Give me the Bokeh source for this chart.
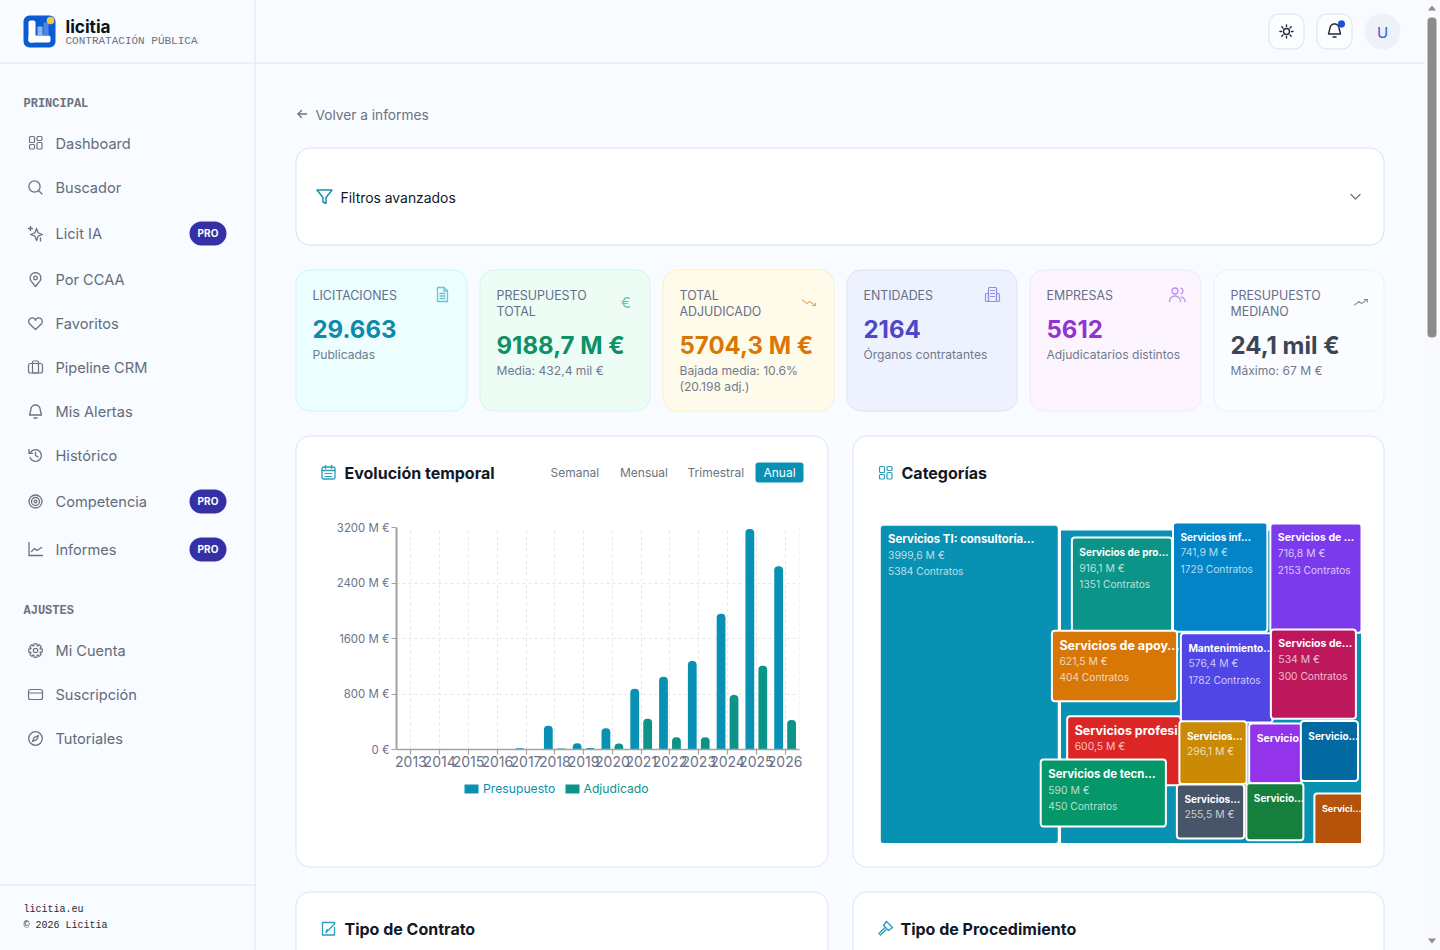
import math
from bokeh.core.properties import value
from bokeh.embed import file_html
from bokeh.models import (ColumnDataSource, FactorRange, FixedTicker, Pane, Range1d, Span)
from bokeh.plotting import figure
from bokeh.resources import INLINE
from bokeh.transform import dodge

# ---------- data ----------
years = ["2013", "2014", "2015", "2016", "2017", "2018", "2019", "2020", "2021", "2022", "2023", "2024", "2025", "2026"]
presupuesto = [0, 0, 2, 6, 19, 342, 91, 308, 876, 1050, 1276, 1955, 3179, 2640]
adjudicado = [0, 0, 0, 4, 3, 15, 22, 87, 443, 178, 178, 785, 1209, 424]
y_ticks = [0, 800, 1600, 2400, 3200]

tm_root_label = "Servicios TI: consultoría…"
tm_root_value = 3999.6
tm_root_contracts = 5384
tm_labels = ["Servicios de pro…", "Servicios inf…", "Servicios de …", "Servicios de apoy…", "Servicios profesi…",
             "Servicios de tecn…", "Mantenimiento…", "Servicios de…", "Servicios…", "Servicios…",
             "Servicio…", "Servicio…", "Servicio…", "Servici…"]
tm_values = [916.1, 741.9, 716.8, 621.5, 600.5, 590.0, 576.4, 534.0, 296.1, 255.5, 220.0, 240.0, 228.0, 210.0]
tm_contracts = [1351, 1729, 2153, 404, None, 450, 1782, 300, None, None, None, None, None, None]

kpi_titles = [["LICITACIONES"], ["PRESUPUESTO", "TOTAL"], ["TOTAL", "ADJUDICADO"], ["ENTIDADES"], ["EMPRESAS"], ["PRESUPUESTO", "MEDIANO"]]
kpi_values = ["29.663", "9188,7 M €", "5704,3 M €", "2164", "5612", "24,1 mil €"]
kpi_notes = [["Publicadas"], ["Media: 432,4 mil €"], ["Bajada media: 10.6%", "(20.198 adj.)"],
             ["Órganos contratantes"], ["Adjudicatarios distintos"], ["Máximo: 67 M €"]]

# ---------- style ----------
SANS = "Inter"
MONO = "Liberation Mono"
PAGE = "#f8fbff"
LINE = "#dfe5ee"
GREY = "#6b7280"
INK = "#111827"
TEAL = "#0891b2"
GREEN = "#0d9488"
ICON = "#6b7280"
# the reference was captured mid-animation: per-cell translation and scale of the treemap transition
tm_colors = ["#0d9488", "#0284c7", "#7c3aed", "#d97706", "#dc2626", "#059669", "#4f46e5", "#be185d",
             "#ca8a04", "#475569", "#9333ea", "#0369a1", "#15803d", "#b45309"]
anim_dx = [4.2, -3, 0, -7.6, 1.9, -18.8, -3.8, -5.6, -5.3, -7.8, -2.8, -3.5, -5.6, 5.4]
anim_dy = [6.2, -4.3, -3.3, -6.8, 8.4, -16.9, -4.2, -8, -5.5, -5, -3.2, -5.7, -3.3, 7]
anim_sx = [.86, 1, 1, 1, .908, 1, 1, 1, 1, 1, 1, 1, 1, 1]
anim_sy = [.896, .977, .977, 1, 1.01, 1, 1, 1, 1, 1, 1, 1, 1, 1]
tm_title_px = [10, 10, 10.5, 12.5, 12.5, 11.4, 10.2, 10.5, 10, 10, 10.5, 10, 10, 9]


def place(fig, left, top):
    fig.styles = {"position": "absolute", "left": f"{left - 1}px", "top": f"{top - 1}px"}
    return fig


# ---------- page chrome ----------
bg = figure(width=1441, height=951, x_range=Range1d(0, 1441), y_range=Range1d(951, 0),
            x_axis_type=None, y_axis_type=None, toolbar_location=None, output_backend="svg",
            min_border=0, outline_line_color=None, background_fill_color=PAGE, border_fill_color=PAGE)


def box(l, t, r, b, fill=None, line=None, radius=0, w=1.0):
    bg.quad(left=[l], right=[r], top=[t], bottom=[b], fill_color=fill, line_color=line, line_width=w,
            border_radius=int(round(radius)), fill_alpha=1 if fill else 0)


def txt(x, y, s, size=14, color=GREY, font=SANS, bold=False, align="left"):
    bg.text(x=[x], y=[y], text=[s], text_font=value(font), text_font_size=f"{size}px", text_color=color,
            text_baseline="middle", text_align=align, text_font_style="bold" if bold else "normal")


def ln(pts, color=ICON, w=1.3):
    bg.line([p[0] for p in pts], [p[1] for p in pts], line_color=color, line_width=w,
            line_cap="round", line_join="round")


def circ(x, y, r, color=ICON, w=1.3, fill=None):
    bg.circle([x], [y], radius=r, line_color=color, line_width=w, fill_color=fill, fill_alpha=1 if fill else 0)


def arc(cx, cy, r, a0, a1, n=14):
    return [(cx + r * math.cos(math.radians(a0 + (a1 - a0) * i / n)),
             cy + r * math.sin(math.radians(a0 + (a1 - a0) * i / n))) for i in range(n + 1)]


def ic_grid(x, y, c=ICON):
    for l, t, r_, b in [(-6, -7, -1, -1), (1.5, -7, 6.5, -3), (-6, 1, -1, 5.5), (1.5, -1, 6.5, 5.5)]:
        box(x + l, y + t, x + r_, y + b, None, c, 1.2, 1.2)


def ic_search(x, y, c=ICON):
    circ(x - 1, y - 1, 5.6, c)
    ln([(x + 3, y + 3), (x + 6.5, y + 6.5)], c)


def ic_spark(x, y, c=ICON):
    ln([(x + 1, y - 5), (x + 2.6, y - .6), (x + 7, y + 1), (x + 2.6, y + 2.6), (x + 1, y + 7), (x - .6, y + 2.6), (x - 5, y + 1), (x - .6, y - .6), (x + 1, y - 5)], c)
    ln([(x - 5, y - 7), (x - 5, y - 3)], c)
    ln([(x - 7, y - 5), (x - 3, y - 5)], c)
    ln([(x + 5, y + 4.5), (x + 5, y + 7.5)], c)


def ic_pin(x, y, c=ICON):
    ln(arc(x, y - 1.5, 5.4, 150, 390) + [(x, y + 7), (x - 4.7, y + 1.2)], c)
    circ(x, y - 1.5, 1.8, c)


def ic_heart(x, y, c=ICON):
    ln(arc(x - 3.2, y - 2, 3.6, 135, 340) + arc(x + 3.2, y - 2, 3.6, 200, 405) + [(x, y + 6), (x - 5.8, y + .6)], c)


def ic_case(x, y, c=ICON):
    box(x - 7, y - 4, x + 7, y + 5.5, None, c, 1.5, 1.2)
    box(x - 3, y - 6.5, x + 3, y + 5.5, None, c, 1, 1.2)


def ic_bell(x, y, c=ICON, w=1.3):
    ln([(x - 6, y + 3.5)] + arc(x, y - 2, 4.6, 180, 360) + [(x + 6, y + 3.5), (x - 6, y + 3.5)], c, w)
    ln([(x - 1.5, y + 6.5), (x + 1.5, y + 6.5)], c, w)


def ic_hist(x, y, c=ICON):
    ln(arc(x, y, 5.8, 200, 520, 22), c)
    ln([(x - 6.5, y - 6), (x - 6.5, y - 2.2), (x - 3, y - 2.2)], c)
    ln([(x, y - 3), (x, y), (x + 2.5, y + 1.5)], c)


def ic_target(x, y, c=ICON):
    circ(x, y, 6.5, c)
    circ(x, y, 4, c)
    circ(x, y, 1.4, c)


def ic_chart(x, y, c=ICON):
    ln([(x - 6.5, y - 7), (x - 6.5, y + 6), (x + 7, y + 6)], c)
    ln([(x - 4, y + 2), (x - 1, y - 1), (x + 1.5, y + 1), (x + 6, y - 2)], c)


def ic_gear(x, y, c=ICON):
    pts = []
    for i in range(8):
        a = 45 * i
        pts += arc(x, y, 6.8, a - 13, a + 13, 3) + arc(x, y, 5, a + 18, a + 27, 2)
    ln(pts + [pts[0]], c, 1.2)
    circ(x, y, 2.2, c, 1.2)


def ic_card(x, y, c=ICON):
    box(x - 7, y - 5, x + 7, y + 5, None, c, 1.5, 1.2)
    ln([(x - 7, y - 1.5), (x + 7, y - 1.5)], c, 1.2)


def ic_compass(x, y, c=ICON):
    circ(x, y, 6.8, c)
    ln([(x + 3, y - 3), (x + 1.2, y + 1.2), (x - 3, y + 3), (x - 1.2, y - 1.2), (x + 3, y - 3)], c)


def ic_doc(x, y, c):
    ln([(x - 5, y - 7), (x + 1.5, y - 7), (x + 5, y - 3.5), (x + 5, y + 7), (x - 5, y + 7), (x - 5, y - 7)], c)
    ln([(x + 1.5, y - 7), (x + 1.5, y - 3.5), (x + 5, y - 3.5)], c)
    for d in (-1, 1.5, 4):
        ln([(x - 2.5, y + d), (x + 2.5, y + d)], c)


def ic_trend(x, y, c, up):
    s = -1 if up else 1
    ln([(x - 7, y - 2.5 * s), (x - 2.5, y + 1.2 * s), (x, y - 1 * s), (x + 6, y + 3 * s)], c, 1.1)
    ln([(x + 2.5, y + 3 * s), (x + 6, y + 3 * s), (x + 6, y + .5 * s)], c, 1.1)


def ic_build(x, y, c):
    box(x - 4, y - 7, x + 4, y + 7, None, c, 1, 1.2)
    box(x - 7, y - 1, x - 4, y + 7, None, c, 1, 1.2)
    box(x + 4, y - 1, x + 7, y + 7, None, c, 1, 1.2)
    for d in (-4, -1, 2):
        ln([(x - 2, y + d), (x + 2, y + d)], c, 1.1)


def ic_users(x, y, c):
    circ(x - 1.5, y - 3.5, 3, c)
    ln(arc(x - 1.5, y + 7, 5.5, 180, 360), c)
    ln(arc(x + 3.5, y - 3.5, 3, -70, 70, 6), c)
    ln(arc(x + 4, y + 7, 4.5, 280, 360, 6), c)


def ic_cal(x, y, c):
    box(x - 6.5, y - 5.5, x + 6.5, y + 6.5, None, c, 1.5, 1.3)
    ln([(x - 6.5, y - 2), (x + 6.5, y - 2)], c)
    ln([(x - 3, y - 7), (x - 3, y - 4)], c)
    ln([(x + 3, y - 7), (x + 3, y - 4)], c)
    for dy in (1, 4):
        ln([(x - 3.5, y + dy), (x + 3.5, y + dy)], c, 1)


def ic_funnel(x, y, c):
    ln([(x - 7.5, y - 6.5), (x + 7.5, y - 6.5), (x + 1.5, y + 1), (x + 1.5, y + 7), (x - 1.5, y + 5.5), (x - 1.5, y + 1), (x - 7.5, y - 6.5)], c, 1.5)


def ic_pen(x, y, c):
    ln([(x + 6, y - 6), (x - 6, y - 6), (x - 6, y + 6.5), (x + 6, y + 6.5), (x + 6, y - 1)], c)
    ln([(x + 6.5, y - 5), (x - 1, y + 2.5), (x - 2.5, y + 4), (x - 1.5, y + 1)], c)


def ic_gavel(x, y, c):
    ln([(x + 1, y - 7), (x + 7, y - 1), (x + 3, y + 2), (x - 2, y - 3), (x + 1, y - 7)], c, 1.4)
    ln([(x - 1, y - .5), (x - 6.5, y + 5), (x - 5, y + 6.5), (x + .5, y + 1.2)], c, 1.4)


# shell: sidebar, top bar, scrollbar
bg.quad(left=[0], right=[255], top=[0], bottom=[951], fill_color="#f8fbff", line_color=None)
box(1425, 0, 1441, 951, "#f9fafb")
ln([(255.5, 0), (255.5, 951)], LINE, 1)
ln([(0, 63.5), (1425, 63.5)], LINE, 1)
ln([(0, 885.5), (255, 885.5)], LINE, 1)
box(1428, 18, 1437, 338, "#8b8b8b", None, 4.5)
bg.patch([1428.5, 1432.5, 1436.5], [11, 6, 11], fill_color="#8b8b8b", line_color=None)
bg.patch([1428.5, 1432.5, 1436.5], [939, 944, 939], fill_color="#8b8b8b", line_color=None)

# logo
box(24, 16, 56, 48, "#0b5bd3", None, 6)
box(29, 21, 36, 43, "#ffffff", None, 1.5)
box(29, 36, 51, 43, "#ffffff", None, 1.5)
box(38, 27, 43, 36, "#8fb4f0")
box(44, 23, 49, 36, "#4a86e8")
circ(51, 21, 3.6, "#f5c945", 0.5, "#f5c945")
txt(66, 27, "licitia", 17.2, "#0b1220", SANS, True)
txt(66, 41, "CONTRATACIÓN PÚBLICA", 11, GREY, MONO)

# sidebar
txt(24, 104.5, "PRINCIPAL", 12, GREY, MONO, True)
txt(24, 611.5, "AJUSTES", 12, GREY, MONO, True)
nav = [("Dashboard", 144, ic_grid, False), ("Buscador", 188, ic_search, False), ("Licit IA", 234, ic_spark, True),
       ("Por CCAA", 280, ic_pin, False), ("Favoritos", 324, ic_heart, False), ("Pipeline CRM", 368, ic_case, False),
       ("Mis Alertas", 412, ic_bell, False), ("Histórico", 456, ic_hist, False), ("Competencia", 502, ic_target, True),
       ("Informes", 550, ic_chart, True), ("Mi Cuenta", 651, ic_gear, False), ("Suscripción", 695, ic_card, False),
       ("Tutoriales", 739, ic_compass, False)]
for label, yy, icon, pro in nav:
    icon(36, yy)
    txt(56, yy, label, 14.6, "#636b7a")
    if pro:
        box(190, yy - 12, 227, yy + 12, "#3430a6", None, 12)
        txt(208.5, yy - 1, "PRO", 10, "#ffffff", SANS, True, "center")
txt(24, 909.5, "licitia.eu", 10, "#1f2937", MONO)
txt(24, 926, "© 2026 Licitia", 10, "#1f2937", MONO)

# top right
box(1269.5, 14.5, 1304.5, 49.5, "#fbfdff", "#dde3ec", 10)
box(1317.5, 14.5, 1352.5, 49.5, "#fbfdff", "#dde3ec", 10)
circ(1287, 32, 3, "#1f2937", 1.4)
for i in range(8):
    a = math.radians(45 * i)
    ln([(1287 + 5 * math.cos(a), 32 + 5 * math.sin(a)), (1287 + 6.6 * math.cos(a), 32 + 6.6 * math.sin(a))], "#1f2937", 1.4)
ic_bell(1335, 31, "#1f2937", 1.4)
circ(1342, 24.5, 3.4, "#1d4ed8", 0.5, "#1d4ed8")
circ(1383, 32, 18, "#eef1f8", 0, "#eef1f8")
txt(1383, 32.5, "U", 15, "#2f5fd0", SANS, False, "center")

# back link and filters
ln([(307, 114.5), (298.5, 114.5)], GREY)
ln([(302, 111), (298.5, 114.5), (302, 118)], GREY)
txt(316, 115.5, "Volver a informes", 13.7, GREY)
box(296.5, 148.5, 1384.5, 245.5, "#ffffff", "#d8e1ee", 14)
ic_funnel(325, 197, "#1c8fb0")
txt(341, 198.5, "Filtros avanzados", 13.9, INK)
ln([(1351.5, 195), (1356, 199.5), (1360.5, 195)], GREY)

# KPI cards
kpi_boxes = [(296.5, 467.5), (480.5, 650.5), (663.5, 834.5), (847.5, 1017.5), (1030.5, 1201.5), (1214.5, 1384.5)]
kpi_fills = ["#ecfeff", "#edfdf6", "#fffbeb", "#eef2ff", "#fcf5ff", "#fafcff"]
kpi_lines = ["#cdf5fa", "#d3f7e6", "#fdf0c4", "#dde3f7", "#f2e7fd", "#eef1f6"]
kpi_colors = ["#0e8aa8", "#0d9165", "#d97706", "#4f46c8", "#9333d0", "#3a4658"]
for i, (l, r_) in enumerate(kpi_boxes):
    box(l, 270.5, r_, 411.5, kpi_fills[i], kpi_lines[i], 14)
    for j, s in enumerate(kpi_titles[i]):
        txt(l + 16.5, 295.5 + 16 * j, s, 12.4, "#64708a")
    two = len(kpi_titles[i]) == 2
    txt(l + 16.5, 345.5 if two else 329, kpi_values[i], 24, kpi_colors[i], SANS, True)
    for j, s in enumerate(kpi_notes[i]):
        txt(l + 16.5, (370.5 if two else 354.5) + 16 * j, s, 12.1, "#707a8c")
ic_doc(443, 295, "#6cc3d6")
txt(626.5, 303, "€", 15, "#6cc9a6", SANS, False, "center")
ic_trend(810, 303, "#f0a860", False)
ic_build(993, 295, "#8f8fe0")
ic_users(1177, 295, "#c08ef0")
ic_trend(1362, 303, "#8a94a6", True)

# main cards
for l, r_, t, b in [(296.5, 828.5, 436.5, 867.5), (853.5, 1384.5, 436.5, 867.5),
                    (296.5, 828.5, 892.5, 990), (853.5, 1384.5, 892.5, 990)]:
    box(l, t, r_, b, "#ffffff", "#dde4ef", 14)
ic_cal(329, 473, "#2a9fbd")
txt(345, 473, "Evolución temporal", 16, INK, SANS, True)
ic_grid(886, 474, "#2a9fbd")
txt(902, 473, "Categorías", 16, INK, SANS, True)
ic_pen(329, 929, "#2a9fbd")
txt(345, 929, "Tipo de Contrato", 16, INK, SANS, True)
ic_gavel(886, 929, "#2a9fbd")
txt(901, 929, "Tipo de Procedimiento", 16, INK, SANS, True)
for s, x_ in [("Semanal", 551), ("Mensual", 620.5), ("Trimestral", 688)]:
    txt(x_, 472.5, s, 12, GREY)
box(756, 463, 804, 483, TEAL, None, 3)
txt(780, 472.5, "Anual", 12, "#ffffff", SANS, False, "center")

# bar chart legend
box(465, 785, 479, 794, TEAL)
txt(483.5, 788.5, "Presupuesto", 12.2, TEAL)
box(566, 785, 580, 794, GREEN)
txt(584, 788.5, "Adjudicado", 12.2, GREEN)

# ---------- bar chart ----------
src = ColumnDataSource(dict(year=years, pres=presupuesto, adj=adjudicado))
x_rng = FactorRange(*years, range_padding=0)
bar = figure(width=477, height=260, x_range=x_rng, y_range=Range1d(0, 3200), toolbar_location=None,
             output_backend="svg", min_border_left=66, min_border_right=8, min_border_top=8, min_border_bottom=30,
             outline_line_color=None, background_fill_color="white", border_fill_color="white")
bar.vbar(x=dodge("year", -0.225, range=x_rng), top="pres", width=0.305, source=src, fill_color=TEAL,
         line_color=None, border_radius=(4, 4, 0, 0))
bar.vbar(x=dodge("year", 0.225, range=x_rng), top="adj", width=0.305, source=src, fill_color=GREEN,
         line_color=None, border_radius=(4, 4, 0, 0))
bar.yaxis.ticker = FixedTicker(ticks=y_ticks)
bar.yaxis.major_label_overrides = {v: (f"{v} M €" if v else "0 €") for v in y_ticks}
bar.ygrid.ticker = FixedTicker(ticks=y_ticks)
for g in (bar.xgrid, bar.ygrid):
    g.grid_line_color = "#e4e7ec"
    g.grid_line_dash = [3, 3]
    g.grid_line_width = 1
bar.add_layout(Span(location=14, dimension="height", line_color="#e4e7ec", line_dash=[3, 3], line_width=1))
for ax, size, lw, standoff in ((bar.xaxis, "14px", 1.6, 1), (bar.yaxis, "11.4px", 2, 2)):
    ax.major_label_text_font = SANS
    ax.major_label_text_font_size = size
    ax.major_label_text_color = "#6b7488"
    ax.axis_line_color = "#a3a3a3"
    ax.axis_line_width = lw
    ax.major_tick_line_color = "#a3a3a3"
    ax.major_tick_line_width = 1.2
    ax.major_tick_in = 0
    ax.major_tick_out = 5
    ax.minor_tick_line_color = None
    ax.major_label_standoff = standoff
place(bar, 331, 520)

# ---------- treemap ----------
TM_W, TM_H, TM_TOP = 481, 318, 6
tm = figure(width=TM_W, height=TM_H + TM_TOP, x_range=Range1d(0, TM_W), y_range=Range1d(TM_H, -TM_TOP),
            x_axis_type=None, y_axis_type=None, toolbar_location=None, output_backend="svg", min_border=0,
            outline_line_color=None, background_fill_color="white", border_fill_color="white")
total = tm_root_value + sum(tm_values)
root_w = tm_root_value / total * TM_W
tree = ("v", [("h", [0, 1, 2]),
              ("h", [("v", [3, 4, 5]),
                     ("v", [("h", [6, 7]),
                            ("h", [("v", [8, 9]), ("v", [("h", [10, 11]), ("h", [12, 13])])])])])])


def weight(n):
    return tm_values[n] if isinstance(n, int) else sum(weight(c) for c in n[1])


def layout(n, x, y, w, h, out):
    if isinstance(n, int):
        out[n] = (x, y, w, h)
        return
    tot = weight(n)
    for c in n[1]:
        f = weight(c) / tot
        if n[0] == "h":
            layout(c, x, y, w * f, h, out)
            x += w * f
        else:
            layout(c, x, y, w, h * f, out)
            y += h * f


cells = {}
layout(tree, root_w, 0, TM_W - root_w, TM_H, cells)


def money(v):
    return (f"{v:.1f}".replace(".", ",").replace(",0", "")) + " M €"


def cell(l, t, r_, b, color, title, val, contracts, size, border=2.0, first=14.5):
    tm.quad(left=[l], right=[r_], top=[t], bottom=[b], fill_color=color, line_color="white", line_width=border,
            border_radius=3)
    common = dict(x_offset=7.5, text_font=value(SANS), text_baseline="middle", text_color="white")
    tm.text(x=[l], y=[t], y_offset=first, text=[title], text_font_size=f"{size}px", text_font_style="bold", **common)
    if r_ - l > 60:  # narrow cells only carry their title
        tm.text(x=[l], y=[t], y_offset=first + 16, text=[money(val)], text_font_size="10.4px", text_alpha=.72, **common)
    if contracts is not None:
        tm.text(x=[l], y=[t], y_offset=first + 32, text=[f"{contracts} Contratos"], text_font_size="10.2px", text_alpha=.72, **common)


tm.quad(left=[root_w + 1.5], right=[TM_W], top=[5], bottom=[TM_H], fill_color=TEAL, line_color=None)
cell(0, 0, root_w - 1.5, TM_H, TEAL, tm_root_label, tm_root_value, tm_root_contracts, 11.4, 0.5, 13.5)
for i, label in enumerate(tm_labels):
    x0, y0, w0, h0 = cells[i]
    cw, ch = w0 * anim_sx[i], h0 * anim_sy[i]
    cx, cy = x0 + w0 / 2 + anim_dx[i], y0 + h0 / 2 + anim_dy[i]
    cell(cx - cw / 2, cy - ch / 2, cx + cw / 2, cy + ch / 2, tm_colors[i], label, tm_values[i], tm_contracts[i], tm_title_px[i])
place(tm, 881, 520)

place(bg, 0, 0)
page = Pane(elements=[bg, bar, tm])
open("out.html", "w").write(file_html(page, INLINE))
